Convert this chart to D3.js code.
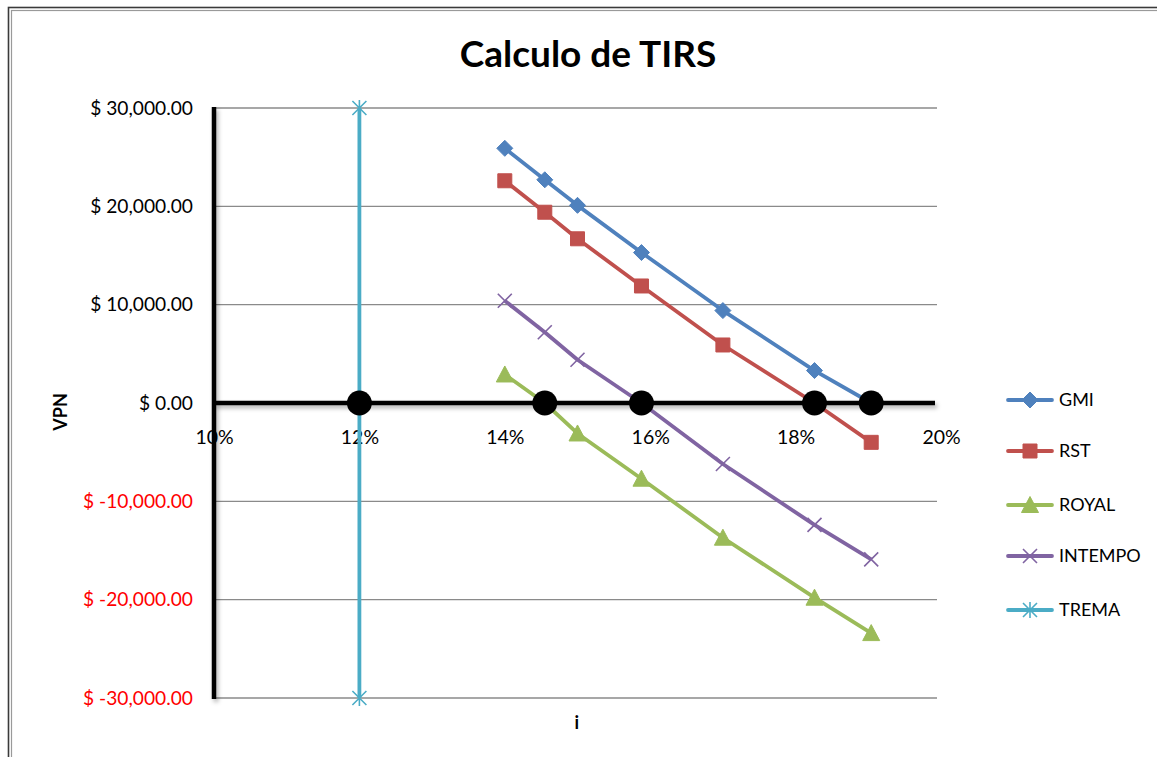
<!DOCTYPE html>
<html>
<head>
<meta charset="utf-8">
<script src="https://cdn.jsdelivr.net/npm/d3@7"></script>
<style>
  html, body { margin: 0; padding: 0; background: #fff; }
  svg { display: block; }
  text { font-family: Lato, "Open Sans", sans-serif; }
</style>
</head>
<body>
<svg id="chart" width="1157" height="757"></svg>
<script>
// ---------- data ----------
const rates = [0.14, 0.1455, 0.15, 0.1588, 0.17, 0.1826, 0.1904];
const gmi     = [25900, 22700, 20100, 15300, 9400, 3300, 0];
const rst     = [22600, 19400, 16700, 11900, 5900, 0, -4000];
const royal   = [2900, 0, -3100, -7700, -13700, -19800, -23400];
const intempo = [10400, 7200, 4400, 0, -6200, -12400, -15900];
const tremaX  = [0.12, 0.12];
const tremaY  = [30000, -30000];
const tirX    = [0.12, 0.1455, 0.1588, 0.1826, 0.1904];
const tirY    = [0, 0, 0, 0, 0];
const xTicks  = [0.10, 0.12, 0.14, 0.16, 0.18, 0.20];
const yTicks  = [30000, 20000, 10000, 0, -10000, -20000, -30000];
const seriesNames  = ["GMI", "RST", "ROYAL", "INTEMPO", "TREMA"];
const seriesColors = ["#4F81BD", "#C0504D", "#9BBB59", "#8064A2", "#4BACC6"];
const title = "Calculo de TIRS";
const xTitle = "i";
const yTitle = "VPN";

// ---------- setup ----------
const svg = d3.select("#chart");
const x = d3.scaleLinear().domain([0.10, 0.20]).range([214, 941]);
const y = d3.scaleLinear().domain([-30000, 30000]).range([698, 108]);

const loc = d3.formatLocale({decimal: ".", thousands: ",", grouping: [3], currency: ["$", ""], minus: "-"});
const money = loc.format(",.2f");
const pct = d3.format(".0%");

const defs = svg.append("defs");
const sh = defs.append("filter").attr("id", "shadow").attr("filterUnits", "userSpaceOnUse")
  .attr("x", 0).attr("y", 0).attr("width", 1157).attr("height", 757);
sh.append("feDropShadow").attr("dx", 2).attr("dy", 3).attr("stdDeviation", 2).attr("flood-color", "#000").attr("flood-opacity", 0.3);

// outer frame
svg.append("rect").attr("x", 8.5).attr("y", 7.5).attr("width", 1200).attr("height", 800)
  .attr("fill", "none").attr("stroke", "#3a3a3a").attr("stroke-width", 1.6);
svg.append("rect").attr("x", 11.5).attr("y", 10.5).attr("width", 1200).attr("height", 800)
  .attr("fill", "none").attr("stroke", "#9a9a9a").attr("stroke-width", 1.2);

// title
svg.append("text").attr("x", 588).attr("y", 67).attr("text-anchor", "middle")
  .attr("font-weight", "bold").attr("font-size", 37).attr("fill", "#000").text(title);

// gridlines
svg.append("g").selectAll("line").data(yTicks.filter(d => d !== 0)).join("line")
  .attr("x1", x(0.10)).attr("x2", x(0.20) - 4)
  .attr("y1", d => y(d)).attr("y2", d => y(d))
  .attr("stroke", "#8a8a8a").attr("stroke-width", 1.3);

// y axis labels
const yAxis = svg.append("g").attr("transform", `translate(${x(0.10)},0)`)
  .call(d3.axisLeft(y).tickValues(yTicks).tickSize(0).tickPadding(21).tickFormat(d => "$ " + money(d)));
yAxis.select(".domain").remove();
yAxis.selectAll("text").attr("font-family", "Lato, sans-serif").attr("font-size", 19.2)
  .attr("fill", d => d < 0 ? "#FF0000" : "#000");

// x axis labels
const xAxis = svg.append("g").attr("transform", `translate(0,${y(0)})`)
  .call(d3.axisBottom(x).tickValues(xTicks).tickSize(0).tickPadding(27).tickFormat(pct));
xAxis.select(".domain").remove();
xAxis.selectAll("text").attr("font-family", "Lato, sans-serif").attr("font-size", 19.5).attr("fill", "#000");

// axis lines (thick black with shadow)
svg.append("line").attr("x1", x(0.10)).attr("x2", x(0.10)).attr("y1", y(30000) - 1).attr("y2", y(-30000) + 1)
  .attr("stroke", "#000").attr("stroke-width", 4.5).attr("filter", "url(#shadow)");
svg.append("line").attr("x1", x(0.10)).attr("x2", x(0.20) - 6).attr("y1", y(0)).attr("y2", y(0))
  .attr("stroke", "#000").attr("stroke-width", 4.5).attr("filter", "url(#shadow)");

// axis titles
svg.append("text").attr("transform", `translate(67,412) rotate(-90)`).attr("text-anchor", "middle")
  .attr("font-weight", "bold").attr("font-size", 18).text(yTitle);
svg.append("text").attr("x", x(0.1499)).attr("y", 729).attr("text-anchor", "middle")
  .attr("font-weight", "bold").attr("font-size", 18).text(xTitle);

// marker shapes
function markerPath(kind) {
  switch (kind) {
    case "diamond": return "M0,-8L8,0L0,8L-8,0Z";
    case "square": return "M-7,-7H7V7H-7Z";
    case "triangle": return "M0,-8.5L8.5,7.5H-8.5Z";
    case "x": return "M-7,-7L7,7M7,-7L-7,7";
    case "star": return "M-7,-7L7,7M7,-7L-7,7M0,-8V8";
  }
}
const kinds = ["diamond", "square", "triangle", "x", "star"];
const filledKinds = {diamond: true, square: true, triangle: true, x: false, star: false};

function drawMarker(g, kind, color) {
  g.append("path").attr("d", markerPath(kind))
    .attr("fill", filledKinds[kind] ? color : "none")
    .attr("stroke", color).attr("stroke-width", filledKinds[kind] ? 1 : 1.6);
}

const line = d3.line().x(d => x(d[0])).y(d => y(d[1]));

const seriesData = [
  rates.map((r, i) => [r, gmi[i]]),
  rates.map((r, i) => [r, rst[i]]),
  rates.map((r, i) => [r, royal[i]]),
  rates.map((r, i) => [r, intempo[i]]),
  tremaX.map((r, i) => [r, tremaY[i]])
];

// draw series (TREMA first so others overlay)
const order = [4, 0, 1, 2, 3];
order.forEach(si => {
  const g = svg.append("g");
  g.append("path").datum(seriesData[si]).attr("d", line)
    .attr("fill", "none").attr("stroke", seriesColors[si]).attr("stroke-width", 3.8)
    .attr("stroke-linejoin", "round");
  seriesData[si].forEach(p => {
    const m = g.append("g").attr("transform", `translate(${x(p[0])},${y(p[1])})`);
    drawMarker(m, kinds[si], seriesColors[si]);
  });
});

// TIR points (black dots)
svg.append("g").selectAll("circle").data(tirX.map((r, i) => [r, tirY[i]])).join("circle")
  .attr("cx", d => x(d[0])).attr("cy", d => y(d[1])).attr("r", 12.5).attr("fill", "#000");

// legend
const legY = [400, 451, 505, 556, 610];
seriesNames.forEach((name, i) => {
  const g = svg.append("g").attr("transform", `translate(1030,${legY[i]})`);
  g.append("line").attr("x1", -22).attr("x2", 22).attr("stroke", seriesColors[i])
    .attr("stroke-width", 3.8).attr("stroke-linecap", "round");
  drawMarker(g, kinds[i], seriesColors[i]);
  g.append("text").attr("x", 29).attr("y", 0).attr("dy", "0.36em")
    .attr("font-size", 18).attr("fill", "#000").text(name);
});
</script>
</body>
</html>
